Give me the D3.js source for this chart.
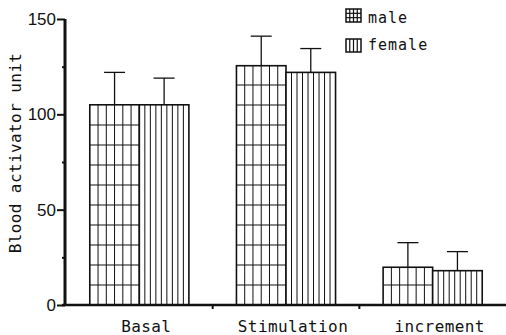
<!DOCTYPE html>
<html><head><meta charset="utf-8">
<script src="https://cdn.jsdelivr.net/npm/d3@7"></script>
<style>body{margin:0;background:#fff}svg{display:block}</style>
</head><body>
<script>
const categories = ["Basal", "Stimulation", "increment"];
const series = ["male", "female"];
const maleValues = [105, 125.5, 19.8];
const femaleValues = [105, 122, 18];
const maleErrors = [122, 141, 32.7];
const femaleErrors = [119, 134.5, 28];
const yTicks = [0, 50, 100, 150];
const yMinorTicks = [25, 75, 125];
const yLabel = "Blood activator unit";

const W = 506, H = 335;
const svg = d3.select("body").append("svg").attr("width", W).attr("height", H);
const ink = "#111";
const mono = "'DejaVu Sans Mono', 'Liberation Mono', monospace";

const y = d3.scaleLinear().domain([0, 150]).range([305, 19]);
const x = d3.scaleBand().domain(categories).range([66, 506]);
const xs = d3.scaleBand().domain(series).range([0, x.bandwidth()]).paddingOuter(0.48);

const data = [];
categories.forEach((c, i) => {
  data.push({cat: c, s: "male", v: maleValues[i], e: maleErrors[i]});
  data.push({cat: c, s: "female", v: femaleValues[i], e: femaleErrors[i]});
});

function hatch(g, x0, y0, w, h, s, hStepPx) {
  const nv = s === "male" ? 6 : 9;
  d3.range(1, nv).forEach(k => {
    g.append("line").attr("x1", x0 + k * w / nv).attr("x2", x0 + k * w / nv)
      .attr("y1", y0).attr("y2", y0 + h).attr("stroke", ink).attr("stroke-width", 1);
  });
  if (s === "male") {
    for (let yy = y0 + h - hStepPx; yy > y0 + 3; yy -= hStepPx) {
      g.append("line").attr("x1", x0).attr("x2", x0 + w).attr("y1", yy).attr("y2", yy)
        .attr("stroke", ink).attr("stroke-width", 1.2);
    }
  }
}

const bars = svg.append("g");
data.forEach(d => {
  const bx = x(d.cat) + xs(d.s), bw = xs.bandwidth();
  const by = y(d.v), bh = y(0) - y(d.v);
  const g = bars.append("g");
  g.append("rect").attr("x", bx).attr("y", by).attr("width", bw).attr("height", bh).attr("fill", "#fff");
  hatch(g, bx, by, bw, bh, d.s, 20);
  g.append("rect").attr("x", bx).attr("y", by).attr("width", bw).attr("height", bh)
    .attr("fill", "none").attr("stroke", ink).attr("stroke-width", 1.6);
  const cx = bx + bw / 2;
  g.append("line").attr("x1", cx).attr("x2", cx).attr("y1", y(d.v)).attr("y2", y(d.e))
    .attr("stroke", ink).attr("stroke-width", 1.3);
  g.append("line").attr("x1", cx - 10.5).attr("x2", cx + 10.5).attr("y1", y(d.e)).attr("y2", y(d.e))
    .attr("stroke", ink).attr("stroke-width", 1.3);
});

// Y axis
const yAxis = svg.append("g").attr("transform", "translate(65,0)")
  .call(d3.axisLeft(y).tickValues(yTicks).tickSize(8).tickPadding(1).tickFormat(d3.format("d")));
yAxis.select(".domain").attr("d", `M0,${y(150)}V${y(0) + 1}`).attr("stroke", ink).attr("stroke-width", 3);
yAxis.selectAll(".tick line").attr("stroke", ink).attr("stroke-width", 2);
yAxis.selectAll(".tick text").attr("font-family", "'Liberation Sans', Arial, sans-serif")
  .attr("font-size", 17).attr("fill", ink);
svg.append("g").attr("transform", "translate(65,0)")
  .call(d3.axisLeft(y).tickValues(yMinorTicks).tickSize(3).tickFormat(""))
  .call(g => g.select(".domain").remove())
  .selectAll("line").attr("stroke", ink).attr("stroke-width", 2);

// X axis
const xAxis = svg.append("g").attr("transform", `translate(0,${y(0)})`);
xAxis.append("line").attr("x1", 62).attr("x2", 506).attr("stroke", ink).attr("stroke-width", 2.6);
xAxis.selectAll(".sep").data(categories.slice(1)).join("line")
  .attr("x1", d => x(d)).attr("x2", d => x(d)).attr("y1", 0).attr("y2", 4)
  .attr("stroke", ink).attr("stroke-width", 2);
xAxis.selectAll(".lab").data(categories).join("text")
  .attr("x", d => x(d) + x.bandwidth() / 2 + 7).attr("y", 27)
  .attr("text-anchor", "middle").attr("font-family", mono).attr("font-size", 16)
  .attr("letter-spacing", 0.4).attr("fill", ink).text(d => d);

// Y label
svg.append("text").attr("transform", "translate(21,153) rotate(-90)")
  .attr("text-anchor", "middle").attr("font-family", mono).attr("font-size", 16)
  .attr("letter-spacing", 0.4).attr("fill", ink).text(yLabel);

// Legend
const leg = svg.append("g");
series.forEach((s, i) => {
  const lx = 346, ly = 9 + i * 30, lw = 15, lh = 13;
  const g = leg.append("g");
  g.append("rect").attr("x", lx).attr("y", ly).attr("width", lw).attr("height", lh).attr("fill", "#fff");
  d3.range(1, 4).forEach(k => {
    g.append("line").attr("x1", lx + k * lw / 4).attr("x2", lx + k * lw / 4)
      .attr("y1", ly).attr("y2", ly + lh).attr("stroke", ink).attr("stroke-width", 1.2);
  });
  if (s === "male") {
    [1, 2].forEach(k => g.append("line").attr("x1", lx).attr("x2", lx + lw)
      .attr("y1", ly + k * lh / 3).attr("y2", ly + k * lh / 3).attr("stroke", ink).attr("stroke-width", 1.2));
  }
  g.append("rect").attr("x", lx).attr("y", ly).attr("width", lw).attr("height", lh)
    .attr("fill", "none").attr("stroke", ink).attr("stroke-width", 1.5);
  g.append("text").attr("x", lx + 22).attr("y", 23 + i * 27).attr("font-family", mono)
    .attr("font-size", 15).attr("letter-spacing", 1).attr("fill", ink).text(s);
});
</script>
</body></html>
